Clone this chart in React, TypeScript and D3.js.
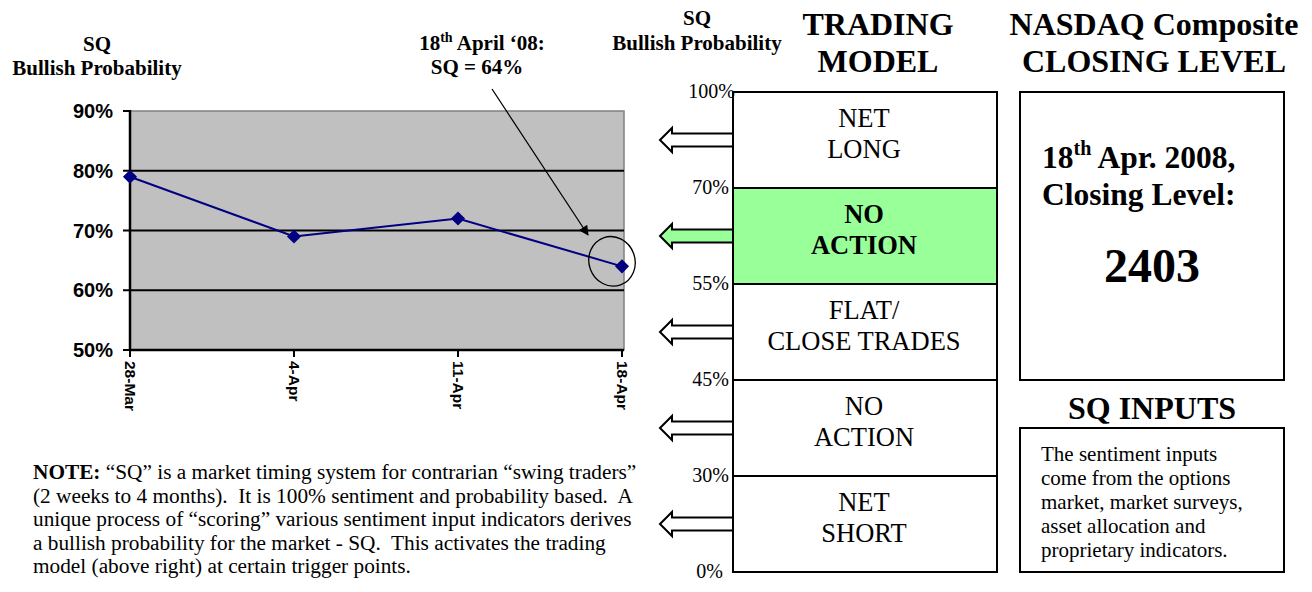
import React from 'react';
import * as d3 from 'd3';

// SQ weekly readings
const dates = ['28-Mar', '4-Apr', '11-Apr', '18-Apr'];
const sqValues = [0.79, 0.69, 0.72, 0.64];
const yTicks = [0.5, 0.6, 0.7, 0.8, 0.9];

// trading model bands, top to bottom
const bandEdges = ['100%', '70%', '55%', '45%', '30%', '0%'];
const bandLabels = [
	['NET', 'LONG'],
	['NO', 'ACTION'],
	['FLAT/', 'CLOSE TRADES'],
	['NO', 'ACTION'],
	['NET', 'SHORT'],
];
const activeBand = 1;

const noteLines = [
	'\u201cSQ\u201d is a market timing system for contrarian \u201cswing traders\u201d',
	'(2 weeks to 4 months).  It is 100% sentiment and probability based.  A',
	'unique process of \u201cscoring\u201d various sentiment input indicators derives',
	'a bullish probability for the market - SQ.  This activates the trading',
	'model (above right) at certain trigger points.',
];
const inputLines = [
	'The sentiment inputs',
	'come from the options',
	'market, market surveys,',
	'asset allocation and',
	'proprietary indicators.',
];

const serif = "'Liberation Serif', 'Times New Roman', serif";
const sans = "'Liberation Sans', Arial, sans-serif";

const App = () => {
	const width = 1312;
	const height = 592;

	const plot = { left: 130, right: 622, top: 111, bottom: 350 };
	const xScale = d3.scalePoint().domain(dates).range([plot.left, plot.right]);
	const yScale = d3.scaleLinear().domain([0.5, 0.9]).range([plot.bottom, plot.top]);

	const line = d3
		.line<number>()
		.x((d, i) => xScale(dates[i]))
		.y((d) => yScale(d));

	const diamond = d3.symbol(d3.symbolSquare, 100)();

	const box = { left: 733, right: 997, top: 92, bottom: 572 };
	const bandScale = d3
		.scaleBand<number>()
		.domain(bandLabels.map((d, i) => i))
		.range([box.top, box.bottom]);

	// hollow arrow pointing left, tip at origin
	const arrowPath = 'M0,0 L12,-12 L12,-6.5 L73,-6.5 L73,6.5 L12,6.5 L12,12 Z';

	const lastX = xScale(dates[dates.length - 1]);
	const lastY = yScale(sqValues[sqValues.length - 1]);

	return (
		<svg width={width} height={height} style={{ position: 'absolute', left: 0, top: 0 }}>
			<defs>
				<marker id='ah' viewBox='0 0 10 10' refX='9' refY='5' markerWidth='13' markerHeight='10' markerUnits='userSpaceOnUse' orient='auto'>
					<path d='M0,0 L10,5 L0,10 Z' fill='black' />
				</marker>
			</defs>
			<rect width={width} height={height} fill='white' />

			{/* --- LEFT CHART TITLE --- */}
			<g fontFamily={serif} fontWeight='bold' fontSize={21} textAnchor='middle'>
				<text x={97} y={51}>SQ</text>
				<text x={97} y={75}>Bullish Probability</text>
			</g>

			{/* --- PLOT AREA --- */}
			<rect
				x={plot.left}
				y={plot.top}
				width={plot.right - plot.left + 2}
				height={plot.bottom - plot.top}
				fill='#c0c0c0'
				stroke='#808080'
				strokeWidth={1.5}
			/>
			{yTicks.slice(1, -1).map((t) => (
				<line key={'g' + t} x1={plot.left} x2={plot.right + 2} y1={yScale(t)} y2={yScale(t)} stroke='black' strokeWidth={2} />
			))}
			<line x1={plot.left} x2={plot.left} y1={plot.top - 1} y2={plot.bottom} stroke='black' strokeWidth={2.5} />
			<line x1={plot.left - 1} x2={plot.right + 2} y1={plot.bottom} y2={plot.bottom} stroke='black' strokeWidth={2.5} />
			{yTicks.map((t) => (
				<g key={'y' + t}>
					<line x1={plot.left - 7} x2={plot.left} y1={yScale(t)} y2={yScale(t)} stroke='black' strokeWidth={2} />
					<text x={113} y={yScale(t) + 7} textAnchor='end' fontFamily={sans} fontWeight='bold' fontSize={20}>
						{Math.round(t * 100) + '%'}
					</text>
				</g>
			))}
			{dates.map((d) => (
				<g key={d} transform={`translate(${xScale(d)},${plot.bottom})`}>
					<line y1={0} y2={7} stroke='black' strokeWidth={2} />
					<text transform='translate(0,11) rotate(90)' dy='0.35em' fontFamily={sans} fontWeight='bold' fontSize={15.5}>
						{d}
					</text>
				</g>
			))}
			<path d={line(sqValues)} fill='none' stroke='#000080' strokeWidth={2} />
			{sqValues.map((v, i) => (
				<path key={i} d={diamond} transform={`translate(${xScale(dates[i])},${yScale(v)}) rotate(45)`} fill='#000080' />
			))}

			{/* --- ANNOTATION --- */}
			<ellipse
				cx={0}
				cy={0}
				rx={23}
				ry={25}
				transform={`translate(${lastX - 10},${lastY - 5}) rotate(-20)`}
				fill='none'
				stroke='black'
				strokeWidth={1.3}
			/>
			<line x1={492} y1={89} x2={588} y2={235} stroke='black' strokeWidth={1.3} markerEnd='url(#ah)' />
			<g fontFamily={serif} fontWeight='bold' fontSize={21} textAnchor='middle'>
				<text x={482} y={50}>
					18<tspan fontSize={14} dy={-8}>th</tspan>
					<tspan dy={8}>{' April \u201808:'}</tspan>
				</text>
				<text x={477} y={74}>SQ = 64%</text>
			</g>

			{/* --- NOTE --- */}
			<g fontFamily={serif} fontSize={21.3}>
				{noteLines.map((l, i) => (
					<text key={i} x={33} y={479 + i * 23.5} xmlSpace='preserve' style={{ whiteSpace: 'pre' }}>
						{i === 0 && <tspan fontWeight='bold'>{'NOTE: '}</tspan>}
						{l}
					</text>
				))}
			</g>

			{/* --- TRADING MODEL --- */}
			<g fontFamily={serif} fontWeight='bold' textAnchor='middle'>
				<text x={697} y={25} fontSize={21}>SQ</text>
				<text x={697} y={50} fontSize={21}>Bullish Probability</text>
				<text x={878} y={35} fontSize={32}>TRADING</text>
				<text x={878} y={72} fontSize={32}>MODEL</text>
				<text x={1154} y={35} fontSize={32}>NASDAQ Composite</text>
				<text x={1154} y={72} fontSize={32}>CLOSING LEVEL</text>
			</g>
			{bandLabels.map((lab, i) => {
				const y0 = bandScale(i);
				const bw = bandScale.bandwidth();
				const active = i === activeBand;
				return (
					<g key={i}>
						<rect
							x={box.left}
							y={y0}
							width={box.right - box.left}
							height={bw}
							fill={active ? '#99ff99' : 'white'}
							stroke='black'
							strokeWidth={2}
						/>
						<path
							d={arrowPath}
							transform={`translate(660,${y0 + bw / 2})`}
							fill={active ? '#99ff99' : 'white'}
							stroke='black'
							strokeWidth={2}
						/>
						{lab.map((t, j) => (
							<text
								key={j}
								x={864}
								y={y0 + 35 + j * 31}
								textAnchor='middle'
								fontFamily={serif}
								fontSize={26.5}
								fontWeight={active ? 'bold' : 'normal'}
							>
								{t}
							</text>
						))}
					</g>
				);
			})}
			{bandEdges.map((e, i) => (
				<text
					key={e}
					x={i === 0 ? 735 : i === bandEdges.length - 1 ? 723 : 729}
					y={box.top + i * bandScale.bandwidth() + 6}
					textAnchor='end'
					fontFamily={serif}
					fontSize={20}
				>
					{e}
				</text>
			))}

			{/* --- NASDAQ BOX --- */}
			<rect x={1020} y={92} width={264} height={288} fill='white' stroke='black' strokeWidth={2} />
			<g fontFamily={serif} fontWeight='bold'>
				<text x={1042} y={168} fontSize={31.5}>
					18<tspan fontSize={20} dy={-13}>th</tspan>
					<tspan dy={13}>{' Apr. 2008,'}</tspan>
				</text>
				<text x={1042} y={205} fontSize={31.5}>Closing Level:</text>
				<text x={1152} y={282} fontSize={48} textAnchor='middle'>2403</text>
				<text x={1152} y={419} fontSize={32} textAnchor='middle'>SQ INPUTS</text>
			</g>
			<rect x={1020} y={428} width={264} height={144} fill='white' stroke='black' strokeWidth={2} />
			<g fontFamily={serif} fontSize={21}>
				{inputLines.map((l, i) => (
					<text key={i} x={1041} y={460.5 + i * 24.2}>{l}</text>
				))}
			</g>
		</svg>
	);
};

export default App;
